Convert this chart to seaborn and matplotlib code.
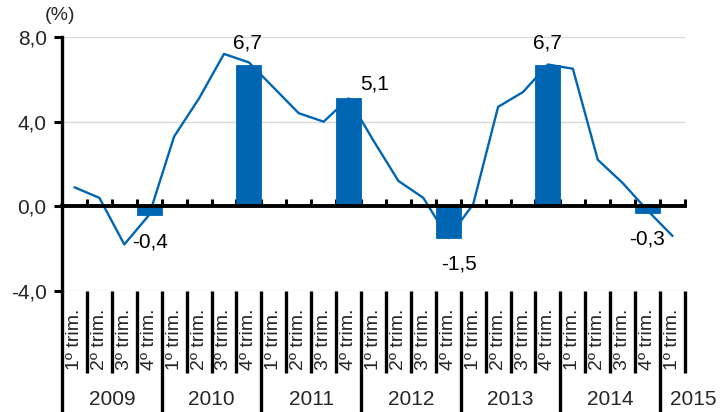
import numpy as np
import pandas as pd
import seaborn as sns
import matplotlib.pyplot as plt

# --- data ------------------------------------------------------------------
years = ["2009", "2010", "2011", "2012", "2013", "2014", "2015"]
quarter_labels = ["1º trim.", "2º trim.", "3º trim.", "4º trim."] * 6 + ["1º trim."]
quarterly_growth = [0.9, 0.4, -1.8, -0.4, 3.3, 5.1, 7.2, 6.8, 5.6, 4.4, 4.0, 5.1,
                    3.1, 1.2, 0.4, -1.5, 0.1, 4.7, 5.4, 6.7, 6.5, 2.2, 1.1, -0.2, -1.4]
annual_growth = [-0.4, 6.7, 5.1, -1.5, 6.7, -0.3]
y_ticks = [-4.0, 0.0, 4.0, 8.0]

# label offsets (dx, dy) from each annual bar
label_offsets = [(0.03, -1.27), (-0.04, 1.0), (1.06, 0.68),
                 (0.45, -1.21), (-0.02, 1.0), (-0.04, -1.23)]

BLUE = "#0066b3"

sns.set_theme(style="white")
plt.rcParams["font.family"] = ["Liberation Sans", "DejaVu Sans"]

fig = plt.figure(figsize=(7.2, 4.12), dpi=100)
ax = fig.add_axes([62 / 720, 1 - 291 / 412, 623 / 720, 254 / 412])

n = len(quarterly_growth)
pos = np.arange(n)
bar_pos = pos[3::4]

line_df = pd.DataFrame({"pos": pos, "growth": quarterly_growth})
bar_df = pd.DataFrame({"pos": bar_pos, "growth": annual_growth})

sns.barplot(data=bar_df, x="pos", y="growth", native_scale=True, width=0.25,
            color=BLUE, saturation=1, edgecolor=BLUE, linewidth=0.6, ax=ax, zorder=2)
sns.lineplot(data=line_df, x="pos", y="growth", color=BLUE, linewidth=1.7,
             ax=ax, zorder=3)

ax.set_xlim(-0.5, n - 0.5)
ax.set_ylim(-4, 8)
ax.set_xlabel("")
ax.set_ylabel("")

# axes styling
for side in ["top", "right"]:
    ax.spines[side].set_visible(False)
ax.spines["left"].set_linewidth(2.4)
ax.spines["left"].set_color("black")
ax.spines["bottom"].set_position(("data", 0))
ax.spines["bottom"].set_linewidth(2.8)
ax.spines["bottom"].set_color("black")
ax.spines["bottom"].set_zorder(4)

ax.set_yticks(y_ticks)
ax.set_yticklabels([f"{v:.1f}".replace(".", ",") for v in y_ticks])
ax.tick_params(axis="y", direction="out", length=6, width=2.2, color="black",
               labelsize=15, pad=5, left=True)
ax.set_xticks(np.arange(0.5, n, 1.0))
ax.set_xticklabels([])
ax.tick_params(axis="x", direction="in", length=5, width=2.2, color="black", bottom=True)

ax.yaxis.grid(True, color="#d9d9d9", linewidth=1)
ax.xaxis.grid(False)
ax.set_axisbelow(True)

# value labels
for x, v, (dx, dy) in zip(bar_pos, annual_growth, label_offsets):
    ax.text(x + dx, v + dy, f"{v:.1f}".replace(".", ","), ha="center", va="center",
            fontsize=15, color="black")

fig.text(60 / 720, 1 - 15.5 / 412, "(%)", ha="center", va="center", fontsize=14)

# category table under the plot
trans = ax.get_xaxis_transform()
for b in np.arange(-0.5, n, 1.0):
    long_line = (b + 0.5) % 4 == 0 and b < n - 1
    y_end = -0.5 if long_line else -0.323
    ax.plot([b, b], [0, y_end], transform=trans, color="black", lw=2.4,
            clip_on=False, solid_capstyle="butt")

for i, q in enumerate(quarter_labels):
    ax.text(i, -0.311, q, transform=trans, rotation=90, ha="center", va="bottom",
            fontsize=14)

for k, yr in enumerate(years):
    xc = 4 * k + 1.5 if k < len(years) - 1 else n - 1 + 0.82
    ax.text(xc, -0.429, yr, transform=trans, ha="center", va="center", fontsize=15)

fig.savefig("out.png", dpi=100)
